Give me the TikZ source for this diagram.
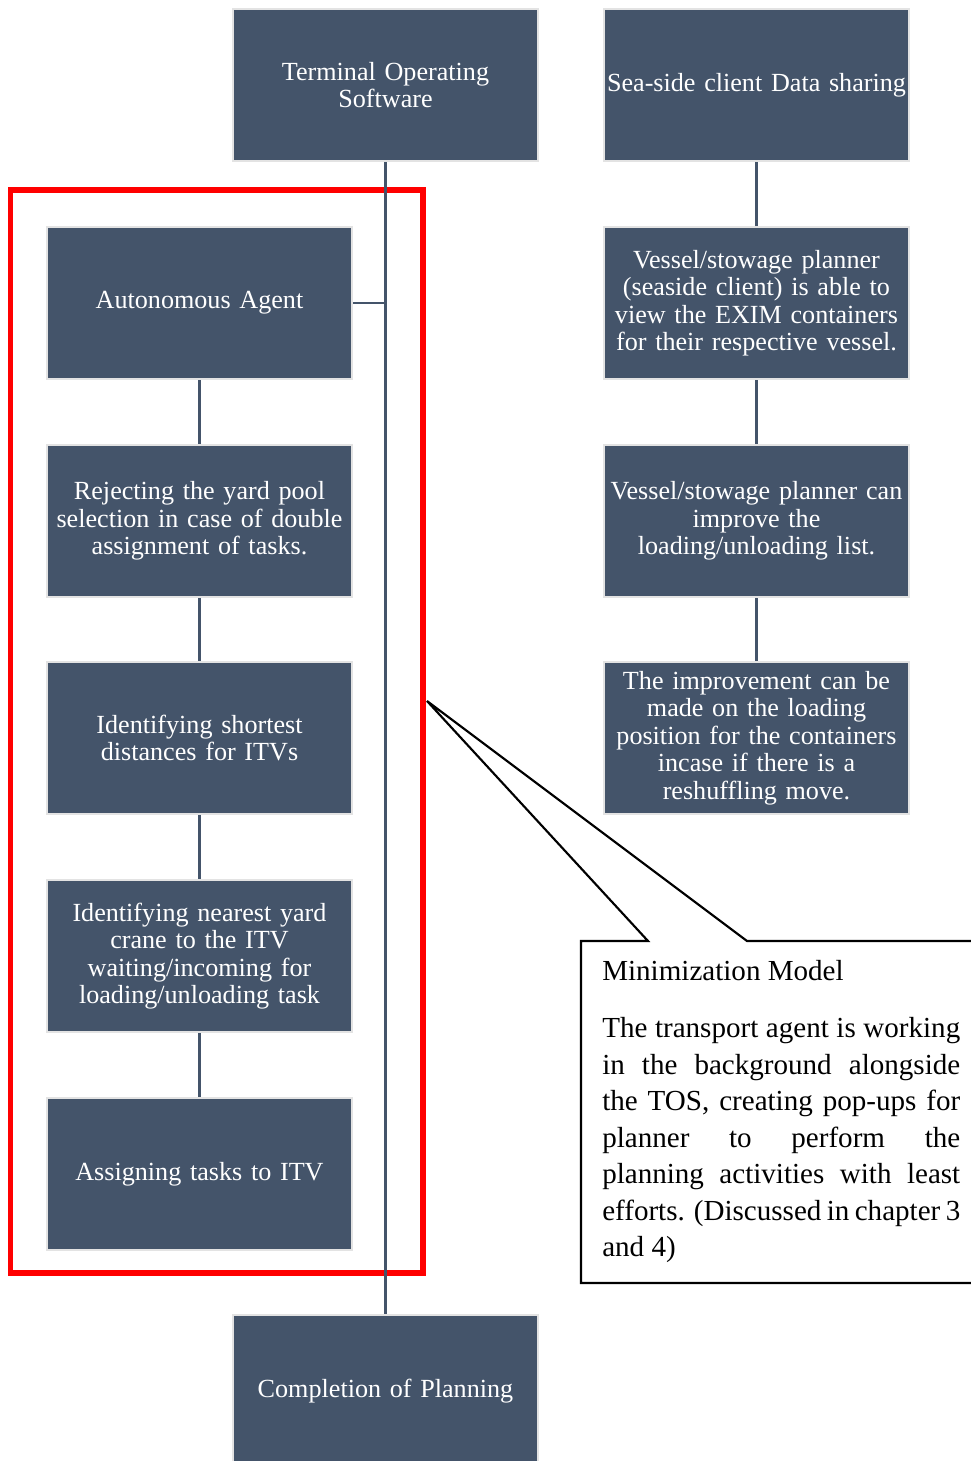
\documentclass[tikz,border=0pt]{standalone}
\usepackage{fontspec}
\setmainfont{Liberation Serif}
\definecolor{boxfill}{HTML}{44546A}
\definecolor{boxborder}{HTML}{E3E3E3}
\definecolor{redframe}{HTML}{FF0000}
\begin{document}
\begin{tikzpicture}[x=0.75pt,y=-0.75pt,
  stepbox/.style={draw=boxborder, line width=1.5pt, fill=boxfill, text=white,
    minimum width=228.75pt, minimum height=114pt, inner sep=0pt,
    text width=226pt, align=center, font=\fontsize{19.6}{20.6}\selectfont},
  link/.style={draw=boxfill, line width=1.6pt},
  frame/.style={draw=redframe, line width=4.2pt},
  calloutshape/.style={draw=black, fill=white, line width=1.6pt, line join=miter},
  callouttext/.style={inner sep=0pt, text width=268.5pt, align=justify,
    font=\fontsize{21.8}{27.4}\selectfont}]
\useasboundingbox (0,0) rectangle (971,1461);
\clip (0,0) rectangle (971,1461);
\fill[white] (0,0) rectangle (971,1461);

% red highlight frame
\coordinate (frameNW) at (10.5,190);
\coordinate (frameSE) at (423,1273);
\draw[frame] (frameNW) rectangle (frameSE);

% nodes
\node[stepbox] (tos) at (385.5,85) {Terminal Operating\\Software};
\node[stepbox] (sea) at (756.5,85) {\makebox[226pt][c]{Sea-side client Data sharing}};
\node[stepbox] (aa) at (199.5,303) {Autonomous Agent};
\node[stepbox] (rej) at (199.5,521) {Rejecting the yard pool\\selection in case of double\\assignment of tasks.};
\node[stepbox] (short) at (199.5,738) {Identifying shortest\\distances for ITVs};
\node[stepbox] (near) at (199.5,956) {Identifying nearest yard\\crane to the ITV\\waiting/incoming for\\loading/unloading task};
\node[stepbox] (assign) at (199.5,1174) {Assigning tasks to ITV};
\node[stepbox] (vsp) at (756.5,303) {Vessel/stowage planner\\(seaside client) is able to\\view the EXIM containers\\for their respective vessel.};
\node[stepbox] (imp) at (756.5,521) {Vessel/stowage planner can\\improve the\\loading/unloading list.};
\node[stepbox] (reshuf) at (756.5,738) {The improvement can be\\made on the loading\\position for the containers\\incase if there is a\\reshuffling move.};
\node[stepbox] (done) at (385.5,1391) {Completion of Planning};

% connectors
\draw[link] (tos.south) -- (done.north);
\draw[link] (aa.east) -- (aa.east -| tos.south);
\draw[link] (aa) -- (rej);
\draw[link] (rej) -- (short);
\draw[link] (short) -- (near);
\draw[link] (near) -- (assign);
\draw[link] (sea) -- (vsp);
\draw[link] (vsp) -- (imp);
\draw[link] (imp) -- (reshuf);

% callout
\coordinate (tip) at (427,701);
\coordinate (cNW) at (581,941);
\coordinate (cA) at (648,941);
\coordinate (cB) at (747,941);
\coordinate (cNE) at (995,941);
\coordinate (cSE) at (995,1283);
\coordinate (cSW) at (581,1283);
\draw[calloutshape] (cNW) -- (cA) -- (tip) -- (cB) -- (cNE) -- (cSE) -- (cSW) -- cycle;
\node[callouttext, anchor=north west] (ctext) at (602,960) {\setlength{\parindent}{0pt}Minimization Model\par\vspace{15.4pt}The transport agent is working\linebreak in the background alongside\linebreak the TOS, creating pop-ups for\linebreak planner to perform the\linebreak planning activities with least\linebreak efforts. (Discussed in chapter 3\linebreak and 4)\par};
\end{tikzpicture}
\end{document}
